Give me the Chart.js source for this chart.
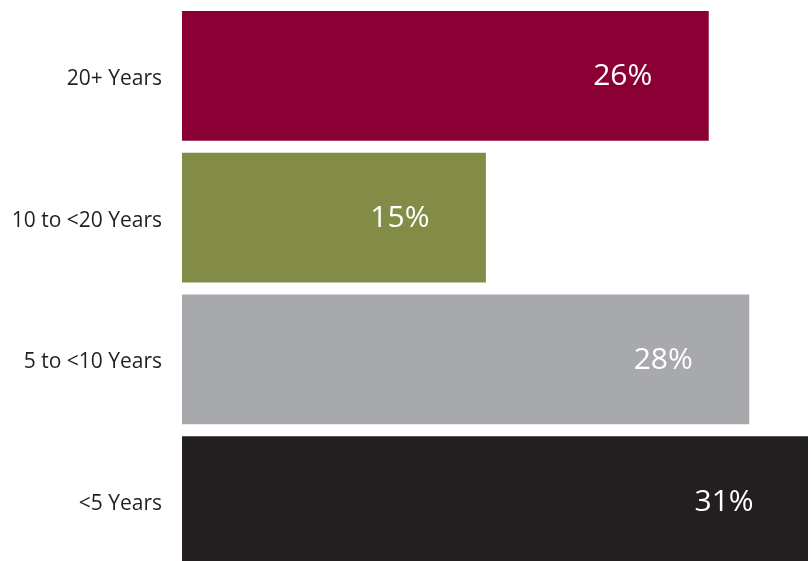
<!DOCTYPE html>
<html>
<head>
<meta charset="utf-8">
<script src="https://cdn.jsdelivr.net/npm/chart.js@4"></script>
<style>
  html, body { margin: 0; padding: 0; background: #fff; overflow: hidden; }
  #wrap { width: 811px; height: 575px; }
</style>
</head>
<body>
<div id="wrap"><canvas id="tenure-chart"></canvas></div>
<script>
'use strict';

// ─── 데이터 ───────────────────────────────────────────
const categories = ['20+ Years', '10 to <20 Years', '5 to <10 Years', '<5 Years'];
const shares     = [26, 15, 28, 31];
const barColors  = ['#8b0034', '#838c47', '#a8a9ad', '#231f20'];

const FONT = '"Open Sans", sans-serif';

// 카테고리 라벨 + 막대 안쪽 % 라벨
const textLabels = {
  id: 'textLabels',
  afterDatasetsDraw(chart) {
    const { ctx } = chart;
    const yScale = chart.scales.y;
    const meta = chart.getDatasetMeta(0);
    ctx.save();
    ctx.textBaseline = 'middle';

    ctx.fillStyle = '#231f20';
    ctx.font = '400 21px ' + FONT;
    ctx.textAlign = 'right';
    categories.forEach((c, i) => {
      ctx.fillText(c, chart.chartArea.left - 20, yScale.getPixelForTick(i) + 3);
    });

    ctx.fillStyle = '#ffffff';
    ctx.font = '400 30px ' + FONT;
    ctx.textAlign = 'center';
    meta.data.forEach((bar, i) => {
      ctx.fillText(shares[i] + '%', bar.x - 86, bar.y + 1);
    });
    ctx.restore();
  }
};

new Chart(document.getElementById('tenure-chart'), {
  type: 'bar',
  data: {
    labels: categories,
    datasets: [{
      data: shares,
      backgroundColor: barColors,
      borderWidth: 0,
      barPercentage: 1,
      categoryPercentage: 0.917
    }]
  },
  options: {
    indexAxis: 'y',
    responsive: true,
    maintainAspectRatio: false,
    animation: false,
    layout: { padding: { top: 5, bottom: 3, right: 3, left: 0 } },
    plugins: { legend: { display: false }, tooltip: { enabled: false } },
    scales: {
      x: { display: false, min: 0, max: 30.9 },
      y: {
        grid: { display: false },
        border: { display: false },
        ticks: { display: false },
        afterFit: s => { s.width = 182; }
      }
    }
  },
  plugins: [textLabels]
});
</script>
</body>
</html>
